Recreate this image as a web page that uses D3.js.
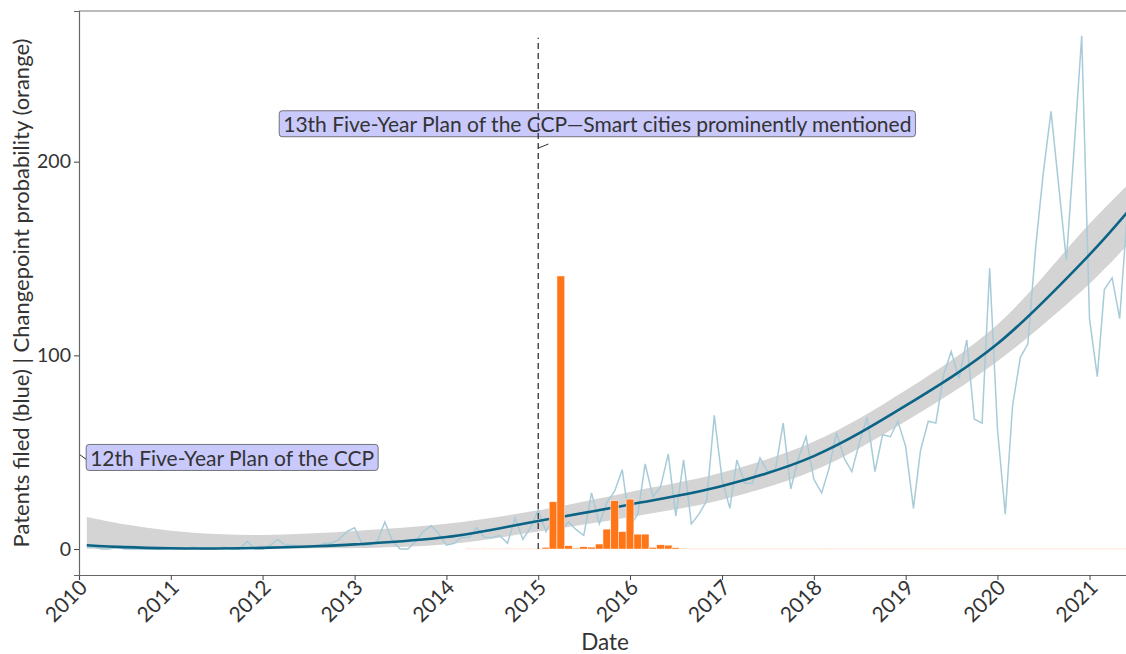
<!DOCTYPE html>
<html>
<head>
<meta charset="utf-8">
<script src="https://cdn.jsdelivr.net/npm/d3@7"></script>
<style>
  body { margin: 0; background: #fff; }
  text { font-family: Lato, "Open Sans", sans-serif; fill: #333; }
</style>
</head>
<body>
<svg id="chart" width="1126" height="654"></svg>
<script>
// Monthly patent filings, first value is February 2010 (month index 1 from Jan 2010)
const patentStartMonth = 1;
const patents = [
  1, 1, 0, 0, 1, 0, 0, 0, 0, 0,
  0, 0, 0, 0, 1, 0, 0, 0, 1, 0,
  0, 4, 0, 0, 2, 5, 2, 2, 1, 1,
  1, 3, 3, 5, 9, 11, 2, 2, 4, 14,
  4, 0, 0, 4, 9, 12, 8, 2, 3, 6,
  6, 11, 6, 6, 7, 3, 16, 5, 11, 20,
  9, 16, 9, 14, 10, 7, 29, 13, 24, 30,
  41, 12, 18, 44, 27, 32, 49, 17, 46, 13,
  18, 25, 69, 36, 21, 46, 34, 34, 47, 40,
  41, 65, 31, 47, 58, 36, 29, 41, 60, 47,
  40, 55, 68, 40, 59, 58, 66, 53, 21, 51,
  66, 65, 90, 102, 88, 108, 67, 65, 145, 62,
  18, 74, 99, 106, 156, 194, 226, 187, 149, 207,
  265, 119, 89, 134, 140, 119, 175
];

// Smoothed trend with its confidence band, at selected month indices
const fitMonths = [1, 6, 12, 18, 24, 30, 36, 48, 60, 72, 84, 96, 108, 120, 132, 137];
const fitValues = [2.0, 1.0, 0.4, 0.3, 0.6, 1.3, 2.4, 6.2, 14.5, 23, 32.5, 48, 74, 106, 152, 174];
const fitLower  = [0.2, 0.1, 0.05, 0.05, 0.1, 0.3, 0.5, 2.5, 9, 16.5, 25.5, 40.5, 66, 97, 137, 157];
const fitUpper  = [16.6, 12.8, 9.5, 7.8, 7.3, 8.0, 9.3, 13, 20, 29.5, 39.5, 55.5, 82, 116, 168, 188];

// Changepoint probability (scaled), monthly from month index 51
const changeStartMonth = 51;
const changeProb = [
  0.3, 0.3, 0.3, 0.3, 0.3, 0.3, 0.3, 0.3, 0.3, 0.3,
  0.9, 24.4, 141, 1.7, 0.5, 1.2, 1, 2.6, 10.3, 25,
  9, 25.8, 7.7, 7.7, 0.9, 2.2, 2, 0.7, 0.4, 0.3,
  0.3, 0.3, 0.3, 0.3, 0.3, 0.3, 0.3, 0.3, 0.3, 0.3,
  0.3, 0.3, 0.3, 0.3, 0.3, 0.3, 0.3, 0.3, 0.3, 0.3,
  0.3, 0.3, 0.3, 0.3, 0.3, 0.3, 0.3, 0.3, 0.3, 0.3,
  0.3, 0.3, 0.3, 0.3, 0.3, 0.3, 0.3, 0.3, 0.3, 0.3,
  0.3, 0.3, 0.3, 0.3, 0.3, 0.3, 0.3, 0.3, 0.3, 0.3,
  0.3, 0.3, 0.3, 0.3, 0.3, 0.3, 0.3
];

// Axis ticks
const yearTicks = [2010, 2011, 2012, 2013, 2014, 2015, 2016, 2017, 2018, 2019, 2020, 2021];
const valueTicks = [0, 100, 200];

// Policy annotations
const planLabels = ["12th Five-Year Plan of the CCP", "13th Five-Year Plan of the CCP\u2014Smart cities prominently mentioned"];
const planAnchorMonth = [0, 60];
const planAnchorValue = [49, 207];
const planLabelMonth = [20, 67.7];
const planLabelValue = [46.7, 219];
const planSegEnd = [[7, 5], [10.2, -4.1]];
const planLineMonth = 60;
const planLineTop = 264;

const monthDate = k => new Date(2010, 0, 1 + Math.round(k * 30.4375));
const monthStart = k => new Date(2010, k, 1);

const W = 1126, H = 654;
const margin = { left: 79, top: 11, right: -5, bottom: 79 };
const svg = d3.select("#chart");

const x = d3.scaleTime()
  .domain([new Date(2010, 0, 1), new Date(2021, 5, 15)])
  .range([margin.left, W - margin.right]);
const y = d3.scaleLinear()
  .domain([-13.4, 277.8])
  .range([H - margin.bottom, margin.top]);

svg.append("defs").append("clipPath").attr("id", "panel")
  .append("rect")
  .attr("x", margin.left).attr("y", margin.top)
  .attr("width", W - margin.right - margin.left)
  .attr("height", H - margin.bottom - margin.top);

const plot = svg.append("g").attr("clip-path", "url(#panel)");

// Confidence band
const band = fitMonths.map((m, i) => ({ d: monthStart(m), lo: fitLower[i], hi: fitUpper[i], v: fitValues[i] }));
plot.append("path")
  .datum(band)
  .attr("fill", "#d4d4d4")
  .attr("d", d3.area().curve(d3.curveCatmullRom.alpha(0.5))
    .x(d => x(d.d)).y0(d => y(d.lo)).y1(d => y(d.hi)));

// Raw monthly filings
const series = patents.map((v, i) => ({ d: monthStart(patentStartMonth + i), v }));
plot.append("path")
  .datum(series)
  .attr("fill", "none")
  .attr("stroke", "#a7cbd8")
  .attr("stroke-width", 1.5)
  .attr("d", d3.line().x(d => x(d.d)).y(d => y(d.v)));

// Smoothed trend
plot.append("path")
  .datum(band)
  .attr("fill", "none")
  .attr("stroke", "#0b6385")
  .attr("stroke-width", 2.6)
  .attr("d", d3.line().curve(d3.curveCatmullRom.alpha(0.5)).x(d => x(d.d)).y(d => y(d.v)));

// Changepoint probability bars
const bars = changeProb.map((v, i) => ({ d: monthStart(changeStartMonth + i), v }));
const barW = x(new Date(2015, 1, 1)) - x(new Date(2015, 0, 1));
plot.selectAll("rect.cp")
  .data(bars)
  .join("rect")
  .attr("class", "cp")
  .attr("x", d => x(d.d) - barW / 2)
  .attr("width", barW)
  .attr("y", d => y(d.v))
  .attr("height", d => y(0) - y(d.v))
  .attr("fill", "#ff7619")
  .attr("stroke", "#fff")
  .attr("stroke-width", 0.5);

// Annotation labels
planLabels.forEach((label, i) => {
  const ax = x(monthDate(planAnchorMonth[i])), ay = y(planAnchorValue[i]);
  const g = svg.append("g");
  const t = g.append("text")
    .attr("x", x(monthDate(planLabelMonth[i])))
    .attr("y", y(planLabelValue[i]))
    .attr("dy", "0.35em")
    .attr("text-anchor", "middle")
    .attr("font-size", 21)
    .text(label);
  const bb = t.node().getBBox();
  g.insert("rect", "text")
    .attr("x", bb.x - 4).attr("y", bb.y - 0.5)
    .attr("width", bb.width + 8).attr("height", bb.height + 1)
    .attr("rx", 3)
    .attr("fill", "#c9c9fc")
    .attr("stroke", "#555")
    .attr("stroke-width", 0.8);
  svg.append("line")
    .attr("x1", ax).attr("y1", ay)
    .attr("x2", ax + planSegEnd[i][0]).attr("y2", ay + planSegEnd[i][1])
    .attr("stroke", "#333").attr("stroke-width", 1);
});

// Dashed marker at the start of the 13th plan
svg.append("line")
  .attr("x1", x(monthStart(planLineMonth))).attr("x2", x(monthStart(planLineMonth)))
  .attr("y1", y(0)).attr("y2", y(planLineTop))
  .attr("stroke", "#333")
  .attr("stroke-width", 1.3)
  .attr("stroke-dasharray", "6,4");

// Panel border (top) and axes
svg.append("line")
  .attr("x1", margin.left).attr("x2", W)
  .attr("y1", margin.top).attr("y2", margin.top)
  .attr("stroke", "#777").attr("stroke-width", 1.1);

const xAxis = svg.append("g")
  .attr("transform", `translate(0,${H - margin.bottom})`)
  .call(d3.axisBottom(x).tickValues(yearTicks.map(yr => new Date(yr, 0, 1)))
    .tickFormat(d3.timeFormat("%Y")).tickSizeOuter(0).tickSize(5));
xAxis.select(".domain").attr("stroke", "#666").attr("stroke-width", 1.2);
xAxis.selectAll(".tick line").attr("stroke", "#444");
xAxis.selectAll(".tick text")
  .attr("font-size", 21)
  .attr("fill", "#333")
  .attr("text-anchor", "end")
  .attr("dy", null)
  .attr("y", null)
  .attr("transform", "translate(9,14) rotate(-45)");

const yAxis = svg.append("g")
  .attr("transform", `translate(${margin.left},0)`)
  .call(d3.axisLeft(y).tickValues(valueTicks).tickSizeOuter(0).tickSize(5).tickPadding(3));
yAxis.select(".domain").attr("stroke", "#666").attr("stroke-width", 1.2);
yAxis.selectAll(".tick line").attr("stroke", "#444");
yAxis.selectAll(".tick text").attr("font-size", 19.5).attr("fill", "#333");
svg.selectAll(".tick text").style("font-family", "Lato, 'Open Sans', sans-serif");

// Axis titles
svg.append("text")
  .attr("x", (margin.left + W - margin.right) / 2)
  .attr("y", 650)
  .attr("text-anchor", "middle")
  .attr("font-size", 22.5)
  .text("Date");

svg.append("text")
  .attr("transform", `translate(29,${(margin.top + H - margin.bottom) / 2}) rotate(-90)`)
  .attr("text-anchor", "middle")
  .attr("font-size", 22)
  .text("Patents filed (blue) | Changepoint probability (orange)");
</script>
</body>
</html>
